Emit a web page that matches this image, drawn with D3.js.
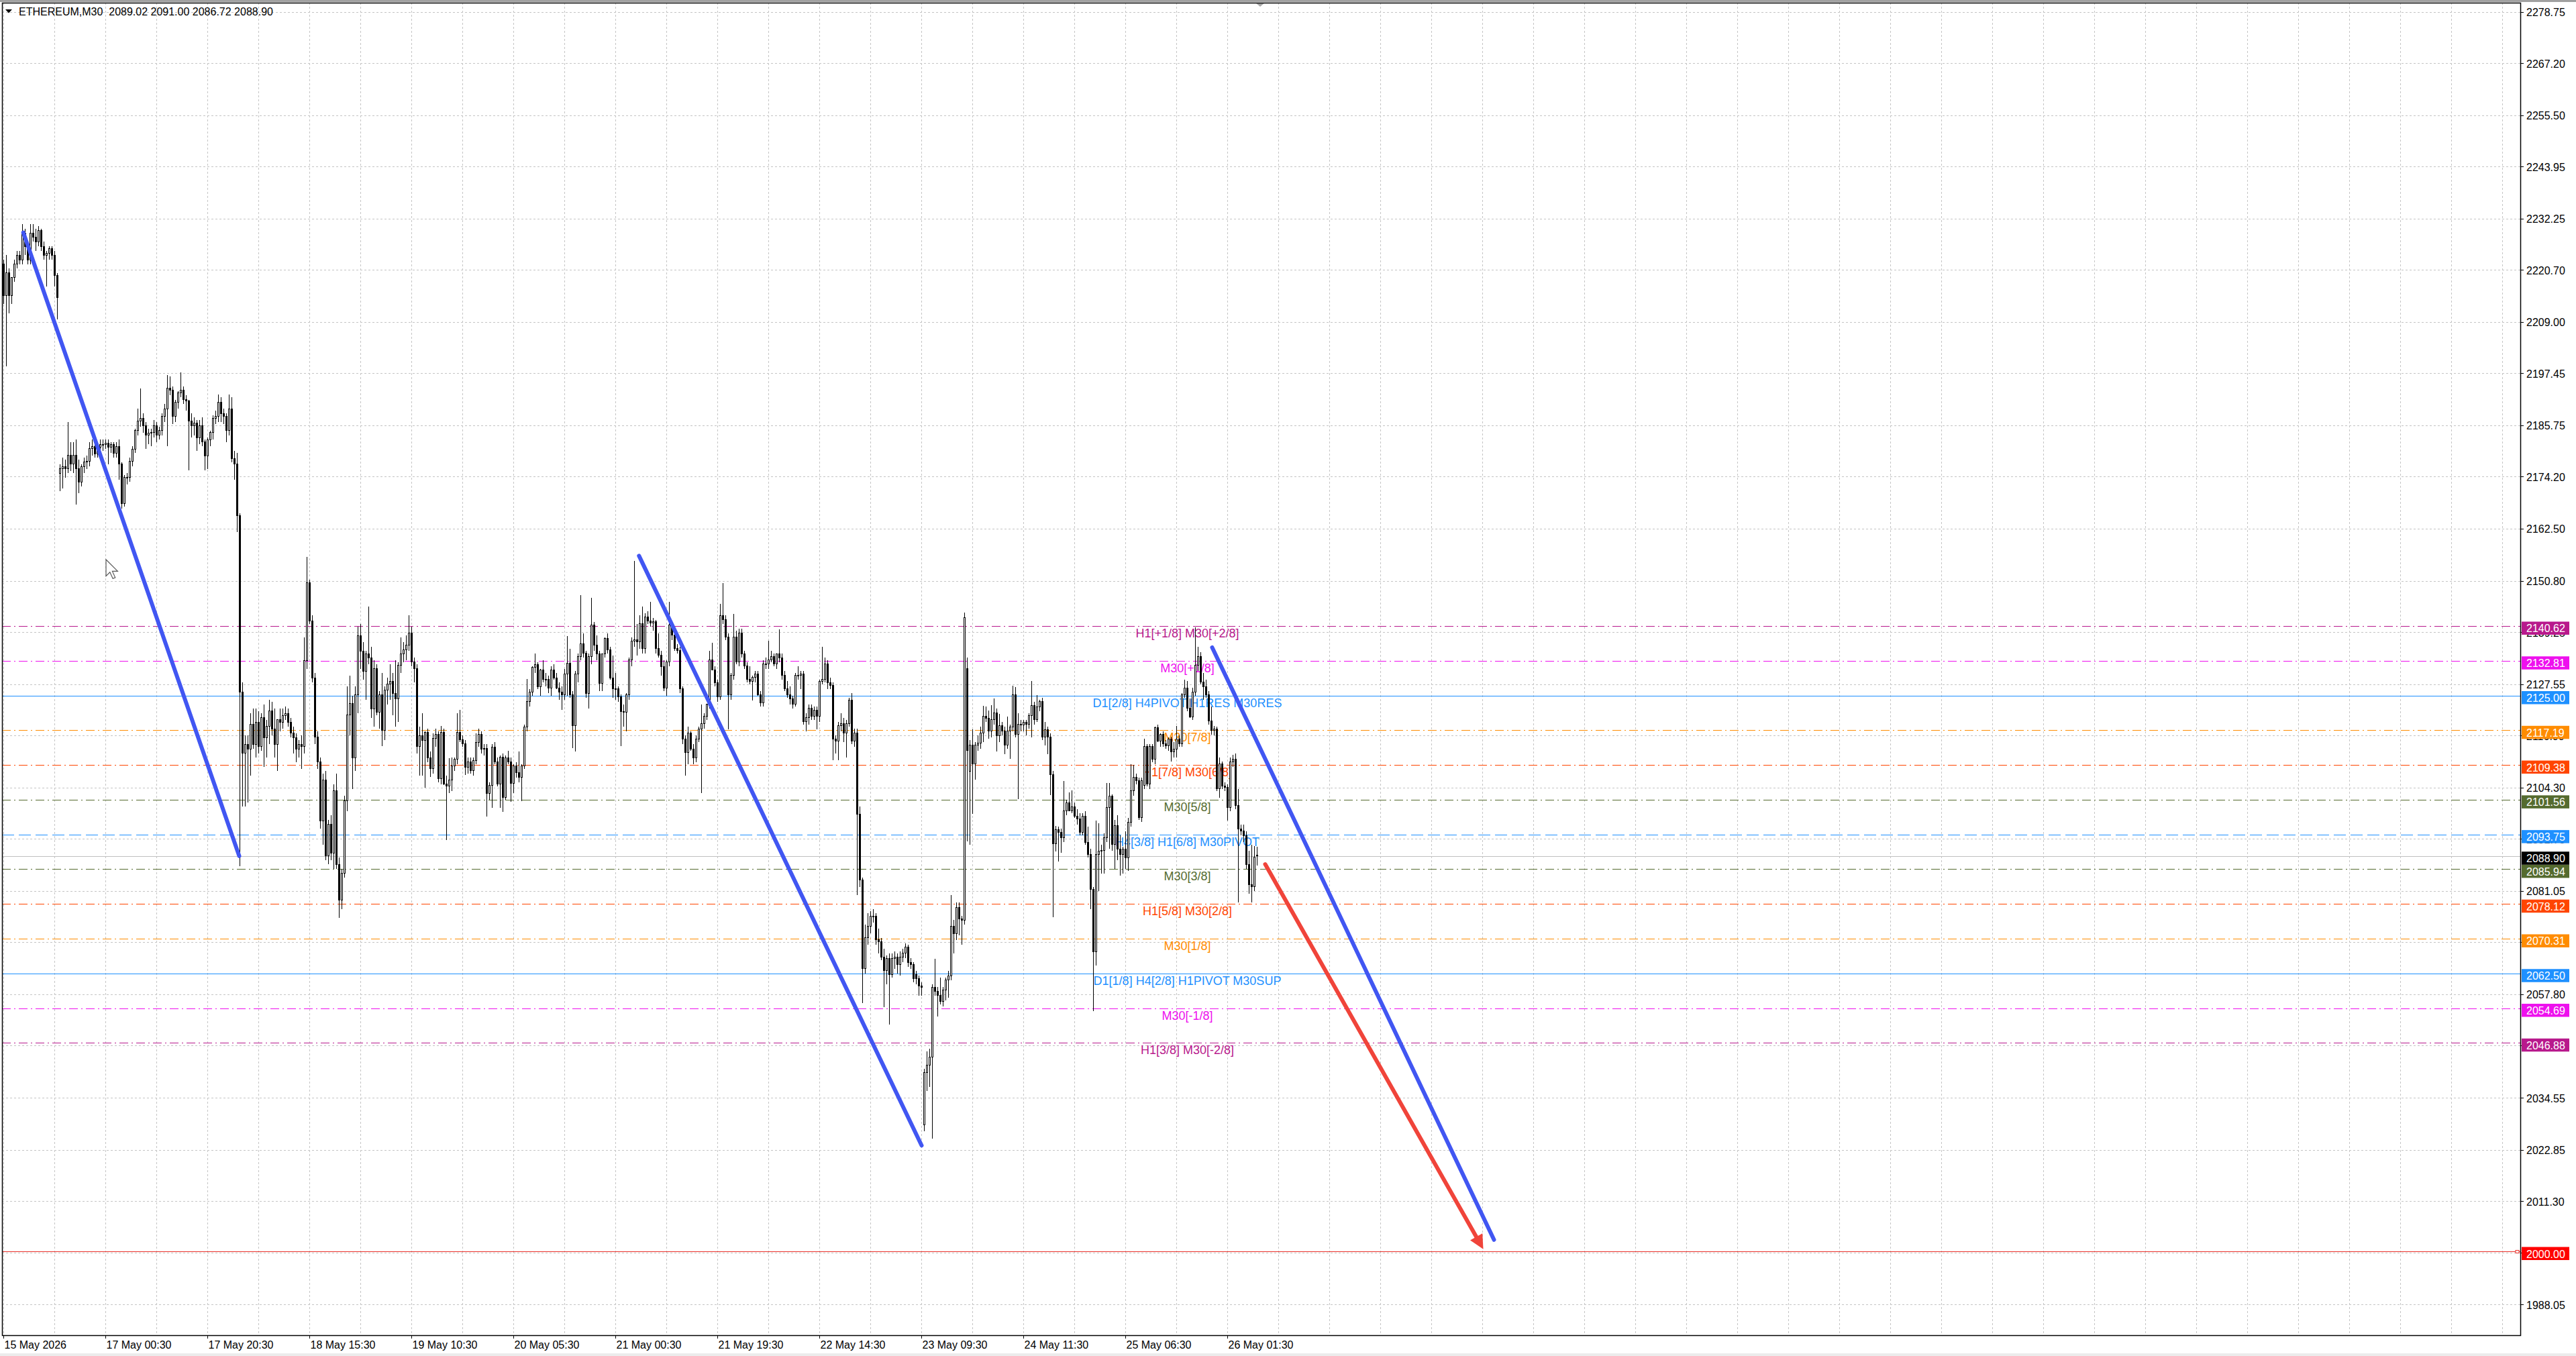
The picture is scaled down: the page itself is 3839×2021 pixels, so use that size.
<!DOCTYPE html>
<html lang="en">
<head>
<meta charset="UTF-8">
<title>ETHEREUM,M30</title>
<script src="https://d3js.org/d3.v7.min.js"></script>
<style>
  body { margin: 0; background: #fff; }
  svg { display: block; font-family: "Liberation Sans", Arial, sans-serif; }
</style>
</head>
<body>
<div id="chart"></div>
<script>
// ---- data ----
const symbol = "ETHEREUM,M30";

// one row per M30 bar: [open, high, low, close]
const ohlc = [
[2222,2223,2213,2215],[2215,2224,2199,2220],[2220,2221,2211,2215],[2215,2219,2213,2219],[2219,2223,2218,2222],
[2222,2225,2221,2224],[2224,2225,2222,2223],[2223,2231,2222,2229],[2229,2230,2224,2226],[2226,2227,2222,2223],
[2223,2231,2222,2229],[2229,2231,2227,2228],[2228,2230,2225,2227],[2227,2230.5,2226,2229.5],[2229.5,2230,2225,2226],
[2226,2227,2223,2224],[2224,2225,2217,2224.5],[2224.5,2226,2223,2225.5],[2225.5,2226,2223,2224],[2224,2225,2217,2219.5],
[2219.5,2220,2209.5,2214.5],[2175,2177,2171,2176],[2176,2178.5,2171.5,2176.5],[2176.5,2178,2174,2176],[2176,2186.5,2175,2179],
[2179,2182,2175.5,2177],[2177,2182,2175,2179],[2179,2182.5,2168,2176],[2176,2178,2170.5,2173],[2173,2177,2172,2176.5],
[2176.5,2178.5,2175,2177.5],[2177.5,2179,2176,2177.7],[2177.7,2182,2176.5,2180.5],[2180.5,2182.5,2179,2181],[2181,2182,2178.5,2179.3],
[2179.3,2182,2178.5,2180.9],[2180.9,2182.5,2179.5,2181.5],[2181.5,2182.5,2180,2181.4],[2181.4,2182.5,2180.5,2181.8],[2181.8,2182.5,2177,2180.8],
[2180.8,2182,2179.5,2181.4],[2181.4,2182,2178.5,2179.5],[2179.5,2182,2178.5,2181],[2181,2182.5,2173.5,2177],[2177,2177.5,2167,2168.2],
[2168.2,2174.5,2167.5,2174],[2174,2175,2172.5,2174],[2174,2178.5,2173,2177.7],[2177.7,2181,2176.5,2180.4],[2180.4,2185,2179.5,2184.6],
[2184.6,2189.5,2183.5,2186.7],[2186.7,2194,2185.5,2187.3],[2187.3,2188.5,2184,2185.7],[2185.7,2186.5,2180.5,2183.5],[2183.5,2185,2181.5,2184],
[2184,2185,2181,2184.1],[2184.1,2187,2183,2185.7],[2185.7,2186.5,2182,2183.5],[2183.5,2185.5,2182.5,2184.6],[2184.6,2188.5,2183.5,2187.8],
[2187.8,2190.5,2186.5,2189.4],[2189.4,2197,2181,2194.1],[2194.1,2196.8,2192.5,2193.6],[2193.6,2194.5,2186,2187.8],[2187.8,2191.5,2186.5,2191],
[2191,2193.5,2189.5,2193.1],[2193.1,2197.6,2192,2193.6],[2193.6,2194.5,2190.5,2191.5],[2191.5,2192.5,2189,2191.2],[2191.2,2191.5,2175.6,2186.7],
[2186.7,2188.5,2183,2185.7],[2185.7,2187.5,2183.5,2186.2],[2186.2,2187,2180,2183],[2183,2187,2181.5,2185.7],[2185.7,2187.5,2181,2182],
[2182,2182.5,2175.6,2178.8],[2178.8,2183,2176,2182.5],[2182.5,2184.5,2181,2184.1],[2184.1,2188,2182.5,2187.3],[2187.3,2189,2186,2187.8],
[2187.8,2192.6,2186.5,2191],[2191,2192,2186.5,2188.3],[2188.3,2189.5,2186,2187.8],[2187.8,2188.5,2182,2184.6],[2184.6,2192.6,2183.5,2189.4],
[2189.4,2192,2177.5,2178.2],[2178.2,2180,2173.5,2177],[2177,2179.5,2161.8,2165.5],[2165.5,2166,2086.6,2125.8],[2125.8,2128,2100,2112],
[2112,2116,2100,2114],[2114,2116,2101,2113],[2113,2121,2107,2118.5],[2118.5,2122,2113,2114],[2114,2122,2111,2119],
[2119,2121.5,2112,2113.5],[2113.5,2121,2112.5,2120],[2120,2123,2109,2115.5],[2115.5,2119.5,2111,2118],[2118,2124,2114,2121.5],
[2121.5,2123.5,2116,2117.5],[2117.5,2122,2111,2114],[2114,2119.5,2108,2119.5],[2119.5,2122,2117,2119],[2119,2122,2117.5,2120.5],
[2120.5,2122.5,2119.5,2121],[2121,2122,2118,2119],[2119,2120,2115.5,2116.5],[2116.5,2118,2112,2115.5],[2115.5,2116.5,2110,2113],
[2113,2115,2111,2114],[2114,2116,2108.5,2113.5],[2113.5,2138,2112,2132.8],[2132.8,2156.2,2131,2150.4],[2150.4,2151,2141,2141.8],
[2141.8,2143,2128,2129],[2129,2130,2114,2115.7],[2115.7,2117,2108.5,2110],[2110,2111,2095,2096.8],[2096.8,2107.5,2091.5,2106],
[2106,2108,2088,2089],[2089,2097,2087,2096],[2096,2098,2088,2089.5],[2089.5,2105,2086,2103.6],[2103.6,2107.5,2086,2087],
[2087,2088.5,2075,2079],[2079,2086,2077,2085],[2085,2102.5,2084,2101.3],[2101.3,2127,2099,2120.7],[2120.7,2129.5,2116,2123.2],
[2123.2,2125,2104,2110.9],[2110.9,2127,2108,2125.2],[2125.2,2140.5,2121,2138.5],[2138.5,2141,2131,2135],[2135,2137,2128.5,2130.5],
[2130.5,2135,2124,2134.3],[2134.3,2145,2132,2133.5],[2133.5,2136,2120,2122],[2122,2133,2118,2131],[2131,2132,2120.5,2121.2],
[2121.2,2126,2117.5,2125.2],[2125.2,2130,2113.6,2117.2],[2117.2,2127,2115,2126.2],[2126.2,2129,2123,2127.5],[2127.5,2132,2124,2128.2],
[2128.2,2130,2120.5,2125.5],[2125.5,2133,2118,2124.2],[2124.2,2132.5,2119,2131.8],[2131.8,2138,2130,2134.3],[2134.3,2137,2132.5,2135.3],
[2135.3,2138.5,2133,2136.3],[2136.3,2143,2135,2139],[2139,2140.5,2131.5,2132.5],[2132.5,2133.5,2128,2131],[2131,2132,2112,2113.6],
[2113.6,2118,2107,2116],[2116,2121,2107,2114.9],[2114.9,2117,2104.3,2116.7],[2116.7,2117.5,2110,2110.9],[2110.9,2112.4,2106.6,2108.6],
[2108.6,2116.5,2107.5,2115.4],[2115.4,2117.5,2113.5,2116.2],[2116.2,2117,2105.5,2106.3],[2106.3,2118.2,2105,2116.7],[2116.7,2117.5,2104.8,2105.1],
[2105.1,2107,2092.5,2104.6],[2104.6,2110.9,2103,2106],[2106,2111,2103.5,2109.1],[2109.1,2111,2108,2110.6],[2110.6,2121,2109.5,2116.7],
[2116.7,2121.7,2114.5,2115.1],[2115.1,2116,2113.5,2114.1],[2114.1,2115,2107.1,2108.9],[2108.9,2111,2107.5,2110.1],[2110.1,2111,2107.5,2108.1],
[2108.1,2111,2107,2110.4],[2110.4,2116.5,2109.5,2114.4],[2114.4,2117.5,2113.5,2116.2],[2116.2,2117,2112,2112.9],[2112.9,2114,2111.5,2113.1],
[2113.1,2114,2097.8,2103],[2103,2105.5,2101.5,2104.8],[2104.8,2114.1,2099.8,2113.4],[2113.4,2114.5,2109.5,2110.1],[2110.1,2111,2104.5,2105.1],
[2105.1,2111.5,2099.8,2111.1],[2111.1,2112,2098.8,2102.1],[2102.1,2111.5,2101.5,2110.9],[2110.9,2112.5,2109.5,2110.1],[2110.1,2111,2101.1,2105.3],
[2105.3,2109.5,2103,2109.1],[2109.1,2110,2106.5,2107.6],[2107.6,2112.4,2105.5,2106.6],[2106.6,2109.5,2101.3,2109.1],[2109.1,2118.5,2108.5,2117.9],
[2117.9,2128.7,2117,2123.7],[2123.7,2126.5,2122.5,2125.7],[2125.7,2131.5,2125,2131.3],[2131.3,2134.5,2130,2132],[2132,2132.5,2126.5,2127],
[2127,2131,2125,2130.8],[2130.8,2133,2128,2128.7],[2128.7,2130,2127,2128.7],[2128.7,2129.5,2125.5,2126.7],[2126.7,2131.5,2125,2130.8],
[2130.8,2132,2128.5,2129],[2129,2130,2126.5,2126.7],[2126.7,2128,2124,2125.7],[2125.7,2127,2121.7,2125.2],[2125.2,2131,2124,2129.8],
[2129.8,2138.3,2125,2132.3],[2132.3,2135.5,2124.5,2125.2],[2125.2,2126,2113.1,2118.2],[2118.2,2130.5,2112.4,2129.8],[2129.8,2134.5,2128,2133.8],
[2133.8,2147.6,2133,2136.6],[2136.6,2139,2133.5,2134.5],[2134.5,2135,2124.5,2125.5],[2125.5,2134.5,2122,2133.8],[2133.8,2146.9,2132,2140.8],
[2140.8,2141.5,2135,2136.3],[2136.3,2138.5,2133,2134.3],[2134.3,2135,2126,2127.7],[2127.7,2134.5,2126,2134.3],[2134.3,2138,2133.5,2137.8],
[2137.8,2139,2134.5,2135.3],[2135.3,2136,2128.5,2129],[2129,2134,2124.5,2126.5],[2126.5,2130,2124,2126.5],[2126.5,2127,2123.5,2124.7],
[2124.7,2125.2,2113.6,2121.4],[2121.4,2123,2118,2121.2],[2121.2,2125.5,2117,2125.2],[2125.2,2133.5,2124,2133],[2133,2138,2131.5,2137.3],
[2137.3,2155.2,2136,2137.5],[2137.5,2141,2134,2137],[2137,2143,2135.5,2141.1],[2141.1,2145,2134.5,2135.5],[2135.5,2143.5,2134.5,2142.6],
[2142.6,2144,2141,2141.8],[2141.8,2146.1,2140.5,2141.3],[2141.3,2142.5,2139.5,2141.6],[2141.6,2142,2134.5,2135.5],[2135.5,2139,2133.5,2134],
[2134,2135,2129.5,2131.5],[2131.5,2133,2126,2126.7],[2126.7,2133,2125,2132.5],[2132.5,2146,2131.5,2140.8],[2140.8,2141.5,2137.5,2138.6],
[2138.6,2139.5,2135,2135.6],[2135.6,2136.5,2134.5,2135.1],[2135.1,2136,2125.5,2126.5],[2126.5,2127,2114,2115.2],[2115.2,2116,2107,2112.2],
[2112.2,2118,2109.5,2116.5],[2116.5,2117,2112.5,2113],[2113,2114,2109.5,2110.9],[2110.9,2116,2110,2115.2],[2115.2,2118,2114.5,2117.4],
[2117.4,2123,2103,2118.7],[2118.7,2121,2117.5,2120.4],[2120.4,2123,2119.5,2123],[2123,2135,2122,2133],[2133,2136.9,2131.5,2130.8],
[2130.8,2131.5,2127,2127.8],[2127.8,2128.5,2123.5,2124.7],[2124.7,2145.6,2124,2142.9],[2142.9,2150.3,2141,2142.1],[2142.1,2143,2137.5,2138.2],
[2138.2,2139,2117.4,2125.2],[2125.2,2130,2124,2129.5],[2129.5,2143.4,2128.5,2138.2],[2138.2,2139.5,2132,2132.5],[2132.5,2140,2131.5,2139],
[2139,2140,2133.5,2134.3],[2134.3,2135,2131,2131.7],[2131.7,2132.5,2128,2128.6],[2128.6,2131.5,2127.5,2128.2],[2128.2,2129.5,2123.9,2129.1],
[2129.1,2130.5,2128,2129.9],[2129.9,2130.5,2125,2125.2],[2125.2,2126,2122.5,2123.4],[2123.4,2133,2122.5,2132.1],[2132.1,2133.5,2131,2132.1],
[2132.1,2137.3,2131,2133],[2133,2135,2132.5,2133.8],[2133.8,2134.5,2131.5,2132.1],[2132.1,2134.5,2131,2134.3],[2134.3,2139.9,2132.5,2133.4],
[2133.4,2134.5,2128.5,2129.5],[2129.5,2130.5,2126,2126.5],[2126.5,2128.2,2124.5,2125.2],[2125.2,2127,2123,2124.3],[2124.3,2125,2122,2123],
[2123,2130,2122.5,2129.5],[2129.5,2131.5,2128.5,2129.5],[2129.5,2130.5,2126.5,2129.9],[2129.9,2130.5,2118.5,2119.1],[2119.1,2121,2117,2120],
[2120,2123,2118.5,2122.1],[2122.1,2123,2119.5,2120.4],[2120.4,2122.5,2119.5,2121.7],[2121.7,2122.5,2117.4,2120.4],[2120.4,2128.5,2119,2128.2],
[2128.2,2136,2127.5,2128.6],[2128.6,2133.5,2128,2132.1],[2132.1,2133,2126.5,2127.8],[2127.8,2129,2126.5,2127.3],[2127.3,2128,2110.4,2115.2],
[2115.2,2116,2112,2114.8],[2114.8,2119,2110.4,2118.2],[2118.2,2121,2117,2118.7],[2118.7,2120,2114.5,2116.5],[2116.5,2119.5,2111,2118.7],
[2118.7,2124.5,2118,2123.9],[2123.9,2125.6,2114,2114.8],[2114.8,2117.5,2113.5,2116.5],[2116.5,2117.5,2080.1,2098.3],[2098.3,2100,2082,2083.5],
[2083.5,2084,2055.8,2063.6],[2063.6,2073.5,2062.5,2070.5],[2070.5,2076,2069,2073.1],[2073.1,2076.5,2071.5,2075.3],[2075.3,2077,2074,2075.3],
[2075.3,2076,2069,2070.1],[2070.1,2072.5,2067,2069.7],[2069.7,2070.5,2065.5,2066.2],[2066.2,2068,2054.9,2063.2],[2063.2,2066.5,2060.1,2065.8],
[2065.8,2067,2051,2062.3],[2062.3,2067,2061.5,2065.8],[2065.8,2067.5,2063.5,2066.2],[2066.2,2067,2062.5,2064.5],[2064.5,2067.5,2062,2066.2],
[2066.2,2068,2065,2067.1],[2067.1,2069.2,2066,2068.4],[2068.4,2069,2064,2064.9],[2064.9,2066,2063.5,2064.5],[2064.5,2065,2060.5,2061.4],
[2062.3,2063,2060,2061.4],[2061.4,2062,2057.5,2059.7],[2059.7,2060.5,2057.5,2059.3],[2028.5,2041,2027,2040.2],[2040.2,2045,2036,2041.9],
[2041.9,2045.5,2037,2043.7],[2043.7,2060,2025.4,2059.3],[2059.3,2065.8,2057.5,2058.4],[2058.4,2059.5,2052.8,2057.5],[2057.5,2061.5,2055.5,2056.2],
[2056.2,2059.5,2055,2058.8],[2058.8,2061.5,2056.5,2061],[2061,2063,2057,2061.9],[2061.9,2080.1,2061,2073.1],[2073.1,2074.5,2067,2071.4],
[2071.4,2078.5,2070,2077.4],[2077.4,2078.5,2071,2074.8],[2074.8,2075.5,2069,2074.4],[2074.4,2143.6,2073.5,2142.5],[2131,2133.5,2092.2,2112.6],
[2108,2115,2091.4,2113.9],[2113.9,2117.4,2098.3,2109.6],[2109.6,2114.5,2106,2113.9],[2113.9,2116,2112.5,2114.3],[2114.3,2118,2113,2116.5],
[2116.5,2122.6,2114.5,2120.4],[2120.4,2122.5,2119,2119.9],[2119.9,2121.6,2115.3,2117],[2117,2122.8,2115.5,2119.6],[2119.6,2124.4,2118.5,2121.1],
[2121.1,2122,2112.4,2115.9],[2115.9,2120.8,2114.5,2118.2],[2118.2,2119,2116,2117],[2117,2118,2111.8,2113.9],[2113.9,2120.2,2113,2117],
[2117,2118.5,2110.7,2117.9],[2117.9,2127.2,2117,2125.1],[2125.1,2126.9,2115.5,2116.2],[2116.2,2121,2101.7,2118.5],[2118.5,2119.5,2117,2118.4],
[2118.4,2119.5,2117,2118.9],[2118.9,2119.5,2116,2118.5],[2118.5,2121,2117.5,2120.5],[2120.5,2128.3,2115.6,2122.8],[2122.8,2123.5,2118.5,2119.6],
[2119.6,2125.1,2119,2122.5],[2122.5,2124,2121.5,2123.7],[2123.7,2124.5,2115,2115.6],[2115.6,2119,2113.8,2117.3],[2117.3,2118,2111.8,2115.6],
[2115.6,2116.5,2102.6,2107.2],[2107.2,2108,2075.1,2091.6],[2091.6,2095.6,2089.9,2094.8],[2094.8,2095.5,2087.6,2094.2],[2094.2,2095,2089.6,2093],
[2093,2105.8,2092,2099.1],[2099.1,2101.5,2098,2100.9],[2100.9,2103.2,2099,2099.1],[2099.1,2103.7,2098.5,2100],[2100,2101,2097.5,2097.8],
[2097.8,2099.5,2096,2097.3],[2097.3,2098.5,2093.5,2094.2],[2094.2,2098.5,2093.5,2097.9],[2097.9,2099,2091.5,2092],[2092,2095.5,2088.5,2089.2],
[2089.2,2090.5,2077,2081.4],[2081.4,2082,2054,2067.3],[2067.3,2096.8,2064.2,2089.3],[2089.3,2096.2,2081,2090],[2090,2091.5,2085,2090.2],
[2090.2,2094,2084.9,2093],[2093,2105.3,2092,2099.8],[2099.8,2105.3,2090.5,2102.3],[2102.3,2102.8,2090,2091.5],[2091.5,2097,2086,2095.8],
[2095.8,2098,2088,2090.5],[2090.5,2093.5,2084.5,2089.2],[2089.2,2091,2085,2090.5],[2090.5,2094.5,2086,2088.5],[2088.5,2097.5,2085.5,2096.5],
[2096.5,2109.5,2095.5,2103.6],[2103.6,2109.4,2102.5,2106.6],[2106.6,2107.5,2105,2105.9],[2105.9,2106.5,2097,2097.5],[2097.5,2106.5,2096.5,2105.9],
[2104.8,2115.2,2104,2113.6],[2113.6,2114,2104.5,2105.1],[2105.1,2114,2104,2113.6],[2113.6,2114,2110,2110.6],[2110.6,2118,2109.5,2117.7],
[2117.7,2118.5,2114.5,2114.7],[2114.7,2116.5,2113.5,2116.2],[2116.2,2117,2113.5,2114.2],[2114.2,2115,2113,2113.7],[2113.7,2115.5,2112.5,2115.2],
[2115.2,2115.7,2110.1,2112.4],[2112.4,2114.5,2111.1,2113],[2113,2118.2,2111.1,2115.2],[2115.2,2116,2113.5,2114.2],[2114.2,2125.5,2113.5,2125.2],
[2125.2,2128.5,2124.5,2126.7],[2126.7,2128.2,2121.5,2122.2],[2122.2,2124.4,2120,2120.2],[2120.2,2126.7,2119.5,2125.7],[2125.7,2140.3,2125,2131.8],
[2131.8,2136,2130.5,2133.8],[2133.8,2134.8,2127.5,2128],[2128,2130,2124,2127],[2127,2128.5,2124.5,2125.2],[2125.2,2126,2118.5,2119.2],
[2119.2,2122.5,2116.2,2117.2],[2117.2,2118.2,2116,2117.5],[2117.5,2118,2103.5,2104.1],[2104.1,2111.1,2102,2109.6],[2109.6,2110.1,2104,2104.6],
[2104.6,2105.5,2103.5,2104.4],[2104.4,2105,2096.8,2099.8],[2099.8,2111.1,2099,2110.1],[2110.1,2111.6,2109,2110.6],[2110.6,2111.9,2099.5,2100.3],
[2100.3,2104,2078.4,2095],[2095,2096,2093.5,2094.5],[2094.5,2096,2092,2093.5],[2093.5,2094.5,2086,2087],[2087,2090,2080.4,2082.4],
[2082.4,2091.5,2078.4,2082],[2082,2091.2,2081,2088.7],[2089.02,2091.00,2086.72,2088.90]
];

// bars that carry a time label, and the labels
const timeLabelBars = [0, 38, 76, 114, 152, 190, 228, 266, 304, 342, 380, 418, 456];
const timeLabels = ["15 May 2026", "17 May 00:30", "17 May 20:30", "18 May 15:30", "19 May 10:30",
  "20 May 05:30", "21 May 00:30", "21 May 19:30", "22 May 14:30", "23 May 09:30",
  "24 May 11:30", "25 May 06:30", "26 May 01:30"];

// price scale labels
const priceTicks = [2278.75, 2267.20, 2255.50, 2243.95, 2232.25, 2220.70, 2209.00, 2197.45, 2185.75,
  2174.20, 2162.50, 2150.80, 2139.25, 2127.55, 2116.00, 2104.30, 2092.75, 2081.05, 2069.50,
  2057.80, 2046.25, 2034.55, 2022.85, 2011.30, 1999.75, 1988.05];

// murrey-math style levels
const levelPrices = [2140.62, 2132.81, 2125.00, 2117.19, 2109.38, 2101.56, 2093.75,
  2085.94, 2078.12, 2070.31, 2062.50, 2054.69, 2046.88];
const levelNames = ["H1[+1/8] M30[+2/8]", "M30[+1/8]", "D1[2/8] H4PIVOT H1RES M30RES", "M30[7/8]",
  "H1[7/8] M30[6/8]", "M30[5/8]", "H4[3/8] H1[6/8] M30PIVOT", "M30[3/8]", "H1[5/8] M30[2/8]",
  "M30[1/8]", "D1[1/8] H4[2/8] H1PIVOT M30SUP", "M30[-1/8]", "H1[3/8] M30[-2/8]"];
const roundLevel = 2000.00;

// hand-drawn lines: [bar1, price1, bar2, price2]
const blueLines = [[7.3, 2229.1, 87.75, 2088.9], [236.7, 2156.4, 342, 2023.8], [450.25, 2135.8, 555.25, 2002.6]];
const redArrow = [470, 2087.05, 551.25, 2000.5];

// ---- layout and styles ----
const W = 3839, H = 2021;
const plot = { left: 3, top: 4, right: 3756, bottom: 1990 };
const barStep = 4;
const labelBar = 441;

const C = { vr: "#b8198c", mg: "#ee10ee", db: "#1e90ff", or: "#ff8c00", orr: "#ff4500", ol: "#556b2f" };
const levelStyle = [
  { c: C.vr, d: "dd" }, { c: C.mg, d: "dd" }, { c: C.db, d: "solid" }, { c: C.or, d: "dd" },
  { c: C.orr, d: "dd" }, { c: C.ol, d: "dd" }, { c: C.db, d: "dash" }, { c: C.ol, d: "dd" },
  { c: C.orr, d: "dd" }, { c: C.or, d: "dd" }, { c: C.db, d: "solid" }, { c: C.mg, d: "dd" },
  { c: C.vr, d: "dd" }
];
const dashes = { dd: "13,5,2,5", dash: "18,7", solid: null };

const x = d3.scaleLinear().domain([0, 100]).range([5.5, 5.5 + 100 * barStep]);
const y = d3.scaleLinear().domain([2000, 2278.75]).range([1865, 17.5]);
const py = p => Math.round(y(p)) + 0.5;

const svg = d3.select("#chart").append("svg")
  .attr("width", W).attr("height", H);

svg.append("rect").attr("width", W).attr("height", H).attr("fill", "#fff");
svg.append("rect").attr("width", W).attr("height", 3).attr("fill", "#a0a0a0");
svg.append("rect").attr("y", 2017).attr("width", W).attr("height", 4).attr("fill", "#ececec");

svg.append("clipPath").attr("id", "clip").append("rect")
  .attr("x", plot.left).attr("y", plot.top)
  .attr("width", plot.right - plot.left).attr("height", plot.bottom - plot.top);

const g = svg.append("g").attr("clip-path", "url(#clip)");

// grid
const gridBars = d3.range(0, 50).map(k => k * 19);
g.append("g").selectAll("line").data(gridBars).join("line")
  .attr("x1", d => x(d)).attr("x2", d => x(d))
  .attr("y1", plot.top).attr("y2", plot.bottom)
  .attr("stroke", "#c4c4c4").attr("stroke-dasharray", "3,3").attr("shape-rendering", "crispEdges");
g.append("g").selectAll("line").data(priceTicks).join("line")
  .attr("x1", plot.left).attr("x2", plot.right)
  .attr("y1", py).attr("y2", py)
  .attr("stroke", "#c4c4c4").attr("stroke-dasharray", "3,3").attr("shape-rendering", "crispEdges");

// levels
const lv = levelPrices.map((p, i) => ({ p, name: levelNames[i], ...levelStyle[i] }));
g.append("g").selectAll("line").data(lv).join("line")
  .attr("x1", plot.left).attr("x2", plot.right)
  .attr("y1", d => py(d.p)).attr("y2", d => py(d.p))
  .attr("stroke", d => d.c).attr("stroke-width", 1.2)
  .attr("stroke-dasharray", d => dashes[d.d]);
g.append("line")
  .attr("x1", plot.left).attr("x2", plot.right)
  .attr("y1", py(roundLevel)).attr("y2", py(roundLevel))
  .attr("stroke", "#e8302a").attr("stroke-width", 1.2);
g.append("rect")
  .attr("x", plot.right - 7).attr("y", py(roundLevel) - 2)
  .attr("width", 5).attr("height", 4).attr("fill", "#fff").attr("stroke", "#e8302a");

g.append("g").selectAll("text").data(lv).join("text")
  .attr("x", x(labelBar)).attr("y", d => y(d.p) + 17)
  .attr("text-anchor", "middle").attr("font-size", 18)
  .attr("fill", d => d.c).text(d => d.name);

// bid line
const last = ohlc[ohlc.length - 1];
g.append("line")
  .attr("x1", plot.left).attr("x2", plot.right)
  .attr("y1", py(last[3])).attr("y2", py(last[3]))
  .attr("stroke", "#c0c0c0").attr("stroke-width", 1);

// candles
const cg = g.append("g").attr("shape-rendering", "crispEdges");
const bars = cg.selectAll("g").data(ohlc).join("g");
bars.append("line")
  .attr("x1", (d, i) => x(i)).attr("x2", (d, i) => x(i))
  .attr("y1", d => y(d[1])).attr("y2", d => y(d[2]))
  .attr("stroke", "#000");
bars.append("rect")
  .attr("x", (d, i) => x(i) - 1)
  .attr("y", d => y(Math.max(d[0], d[3])))
  .attr("width", 2)
  .attr("height", d => Math.max(1, Math.abs(y(d[0]) - y(d[3]))))
  .attr("fill", d => d[3] >= d[0] ? "#fff" : "#000")
  .attr("stroke", "#000");

// trend lines
g.append("g").selectAll("line").data(blueLines).join("line")
  .attr("x1", d => x(d[0])).attr("y1", d => y(d[1]))
  .attr("x2", d => x(d[2])).attr("y2", d => y(d[3]))
  .attr("stroke", "#4156f2").attr("stroke-width", 6).attr("stroke-linecap", "round");

{
  const x1 = x(redArrow[0]), y1 = y(redArrow[1]), x2 = x(redArrow[2]), y2 = y(redArrow[3]);
  const ang = Math.atan2(y2 - y1, x2 - x1);
  const back = 12;
  g.append("line")
    .attr("x1", x1).attr("y1", y1)
    .attr("x2", x2 - back * Math.cos(ang)).attr("y2", y2 - back * Math.sin(ang))
    .attr("stroke", "#f0443a").attr("stroke-width", 6).attr("stroke-linecap", "round");
  const hl = 21, hw = 10.5;
  const bx = x2 - hl * Math.cos(ang), by = y2 - hl * Math.sin(ang);
  const nx = -Math.sin(ang), ny = Math.cos(ang);
  g.append("path")
    .attr("d", `M${x2},${y2}L${bx + hw * nx},${by + hw * ny}L${bx - hw * nx},${by - hw * ny}Z`)
    .attr("fill", "#f0443a");
}

// mouse pointer left on the chart
svg.append("path")
  .attr("d", "M0,0L0,17L4,13L7,19.5L9.5,18.5L6.5,12L12,12Z")
  .attr("transform", "translate(158,834) scale(1.45)")
  .attr("fill", "#fff").attr("stroke", "#555").attr("stroke-width", 0.8);

// chart-shift marker
svg.append("path").attr("d", "M1871,4L1885,4L1878,10Z").attr("fill", "#a8a8a8");

// frame
svg.append("rect")
  .attr("x", plot.left + 0.5).attr("y", plot.top + 0.5)
  .attr("width", plot.right - plot.left).attr("height", plot.bottom - plot.top)
  .attr("fill", "none").attr("stroke", "#000").attr("stroke-width", 1.5);

// price axis
const ax = svg.append("g").attr("font-size", 16);
ax.selectAll("line").data(priceTicks).join("line")
  .attr("x1", plot.right + 1).attr("x2", plot.right + 5)
  .attr("y1", py).attr("y2", py)
  .attr("stroke", "#000");
ax.selectAll("text").data(priceTicks).join("text")
  .attr("x", plot.right + 9).attr("y", d => y(d) + 1)
  .attr("dominant-baseline", "central").attr("fill", "#000")
  .text(d => d.toFixed(2));

const tags = lv.map(d => ({ p: d.p, c: d.c }))
  .concat([{ p: roundLevel, c: "#ff0000" }, { p: last[3], c: "#000" }]);
const tg = svg.append("g").attr("font-size", 16);
tg.selectAll("rect").data(tags).join("rect")
  .attr("x", plot.right + 2).attr("y", d => y(d.p) - 6.5)
  .attr("width", 71).attr("height", 19.5).attr("fill", d => d.c);
tg.selectAll("text").data(tags).join("text")
  .attr("x", plot.right + 9).attr("y", d => y(d.p) + 4)
  .attr("dominant-baseline", "central").attr("fill", "#fff")
  .text(d => d.p.toFixed(2));

// time axis
const tx = svg.append("g").attr("font-size", 16);
tx.selectAll("line").data(timeLabelBars).join("line")
  .attr("x1", d => x(d)).attr("x2", d => x(d))
  .attr("y1", plot.bottom).attr("y2", plot.bottom + 5).attr("stroke", "#000");
tx.selectAll("text").data(timeLabelBars).join("text")
  .attr("x", d => x(d) + 1).attr("y", plot.bottom + 20)
  .attr("fill", "#000")
  .text((d, i) => timeLabels[i]);

// header
svg.append("path").attr("d", "M8,14L18,14L13,19.5Z").attr("fill", "#000");
svg.append("text")
  .attr("x", 28).attr("y", 23).attr("font-size", 16).attr("fill", "#000")
  .attr("xml:space", "preserve")
  .text(`${symbol}  ${last.map(v => v.toFixed(2)).join(" ")}`);
</script>
</body>
</html>
